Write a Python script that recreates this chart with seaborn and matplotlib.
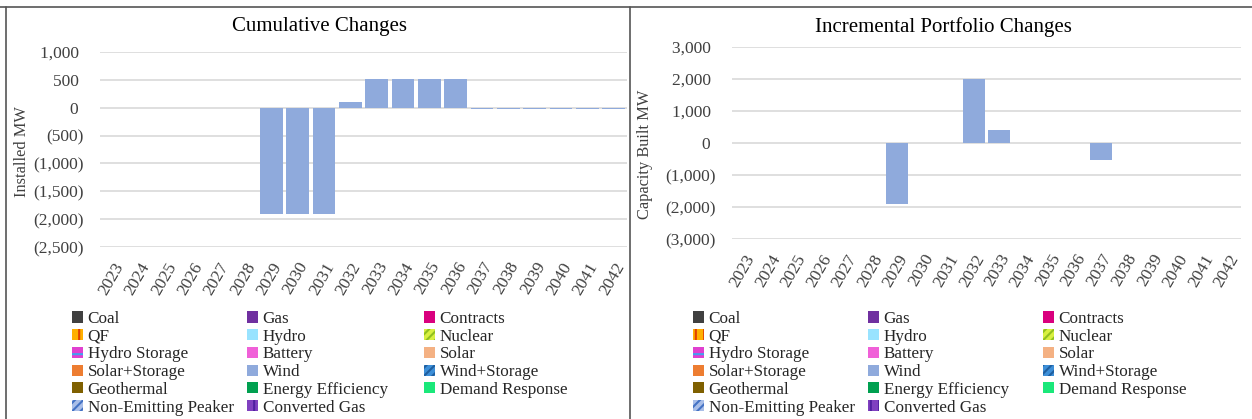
import matplotlib

matplotlib.use("Agg")
import matplotlib.pyplot as plt
import numpy as np
import pandas as pd
import seaborn as sns
from matplotlib.lines import Line2D
from matplotlib.patches import Patch
from matplotlib.ticker import FuncFormatter

YEARS = [str(y) for y in range(2023, 2043)]

# Wind is the only resource with non-zero changes
WIND_CUMULATIVE = [0, 0, 0, 0, 0, 0, -1910, -1910, -1910, 110,
                   510, 510, 510, 510, -15, -15, -15, -15, -15, -15]
WIND_INCREMENTAL = [0, 0, 0, 0, 0, 0, -1900, 0, 0, 2010,
                    400, 0, 0, 0, -525, 0, 0, 0, 0, 0]

RESOURCES = [
    "Coal", "Gas", "Contracts",
    "QF", "Hydro", "Nuclear",
    "Hydro Storage", "Battery", "Solar",
    "Solar+Storage", "Wind", "Wind+Storage",
    "Geothermal", "Energy Efficiency", "Demand Response",
    "Non-Emitting Peaker", "Converted Gas",
]
FACE_COLORS = {
    "Coal": "#404040", "Gas": "#7030A0", "Contracts": "#D9007E",
    "QF": "#FFB000", "Hydro": "#99E3FF", "Nuclear": "#D8F040",
    "Hydro Storage": "#E040D0", "Battery": "#F060D8", "Solar": "#F4B183",
    "Solar+Storage": "#ED7D31", "Wind": "#8FAADC", "Wind+Storage": "#3D8FD8",
    "Geothermal": "#7F6000", "Energy Efficiency": "#00A050", "Demand Response": "#1AE87A",
    "Non-Emitting Peaker": "#A9BEE8", "Converted Gas": "#8040C0",
}
HATCHES = {
    "QF": ("||", "#E04000"),
    "Nuclear": ("////", "#90C020"),
    "Hydro Storage": ("--", "#40A0F0"),
    "Wind+Storage": ("////", "#1F5FA0"),
    "Non-Emitting Peaker": ("////", "#4472C4"),
    "Converted Gas": ("||", "#5020A0"),
}

TEXT_COLOR = "#404040"
GRID_COLOR = "#D9D9D9"
FONT = ["Liberation Serif", "DejaVu Serif"]
W, H = 1252, 419


def paren_fmt(v, _pos):
    if abs(v) < 1e-9:
        return "0 "
    if v < 0:
        return f"({abs(v):,.0f})"
    return f"{v:,.0f} "


def draw_panel(ax, values, ylim, step):
    df = pd.DataFrame({"year": YEARS, "value": values})
    sns.barplot(data=df, x="year", y="value", color=FACE_COLORS["Wind"],
                saturation=1, width=0.86, linewidth=0, ax=ax, zorder=3)
    ax.set_ylim(*ylim)
    ax.set_xlim(-0.5, len(YEARS) - 0.5)
    ax.set_yticks(np.arange(ylim[0], ylim[1] + step / 2, step))
    ax.yaxis.set_major_formatter(FuncFormatter(paren_fmt))
    ax.grid(axis="y", color=GRID_COLOR, linewidth=1.2, zorder=0)
    ax.grid(axis="x", visible=False)
    ax.set_axisbelow(True)
    for side in ax.spines.values():
        side.set_visible(False)
    ax.tick_params(axis="y", length=0, labelsize=12.5, labelcolor=TEXT_COLOR, pad=12)
    ax.tick_params(axis="x", length=0, labelsize=12.5, labelcolor=TEXT_COLOR, pad=9)
    plt.setp(ax.get_xticklabels(), rotation=60, ha="right", rotation_mode="anchor")
    ax.set_xlabel("")
    ax.set_ylabel("")
    ax.set_facecolor("white")


def make_handle(name):
    if name in HATCHES:
        hatch, hcolor = HATCHES[name]
        return Patch(facecolor=FACE_COLORS[name], edgecolor=hcolor, hatch=hatch, linewidth=0)
    return Patch(facecolor=FACE_COLORS[name], linewidth=0)


def draw_legend(fig, col_x):
    # one legend per column so each column sits exactly where it does in the source
    for i, x0 in enumerate(col_x):
        names = RESOURCES[i::3]
        fig.legend([make_handle(n) for n in names], names, loc="upper left",
                   bbox_to_anchor=(x0 / W, 1 - 311 / H), frameon=False,
                   fontsize=12.3, handlelength=0.62, handleheight=0.62,
                   handletextpad=0.3, labelspacing=0.1,
                   borderpad=0, borderaxespad=0)


def main():
    sns.set_theme(style="white")
    plt.rcParams["font.family"] = FONT
    plt.rcParams["hatch.linewidth"] = 1.5

    fig = plt.figure(figsize=(12.52, 4.19), dpi=100)
    fig.patch.set_facecolor("white")

    ax1 = fig.add_axes([100 / W, 1 - 247 / H, 527 / W, 195 / H])
    ax2 = fig.add_axes([732 / W, 1 - 239 / H, 509 / W, 192 / H])

    draw_panel(ax1, WIND_CUMULATIVE, (-2500, 1000), 500)
    draw_panel(ax2, WIND_INCREMENTAL, (-3000, 3000), 1000)

    fig.text(320 / W, 1 - 27 / H, "Cumulative Changes", ha="center", va="center",
             fontsize=15, color="black")
    fig.text(943 / W, 1 - 27 / H, "Incremental Portfolio Changes", ha="center", va="center",
             fontsize=15, color="black")
    fig.text(22 / W, 1 - 152 / H, "Installed MW", rotation=90, ha="center", va="center",
             fontsize=11.8, color=TEXT_COLOR)
    fig.text(645 / W, 1 - 154 / H, "Capacity Built MW", rotation=90, ha="center",
             va="center", fontsize=11.8, color=TEXT_COLOR)

    draw_legend(fig, (72, 247, 424))
    draw_legend(fig, (693, 868, 1043))

    # panel frames
    for x in (6, 630):
        fig.add_artist(Line2D([x / W, x / W], [0, 1 - 7 / H], color="#555555", linewidth=1.2))
    fig.add_artist(Line2D([0, 1], [1 - 7 / H, 1 - 7 / H], color="#555555", linewidth=1.2))

    fig.savefig("out.png", dpi=100, facecolor="white")
    plt.close(fig)


if __name__ == "__main__":
    main()
